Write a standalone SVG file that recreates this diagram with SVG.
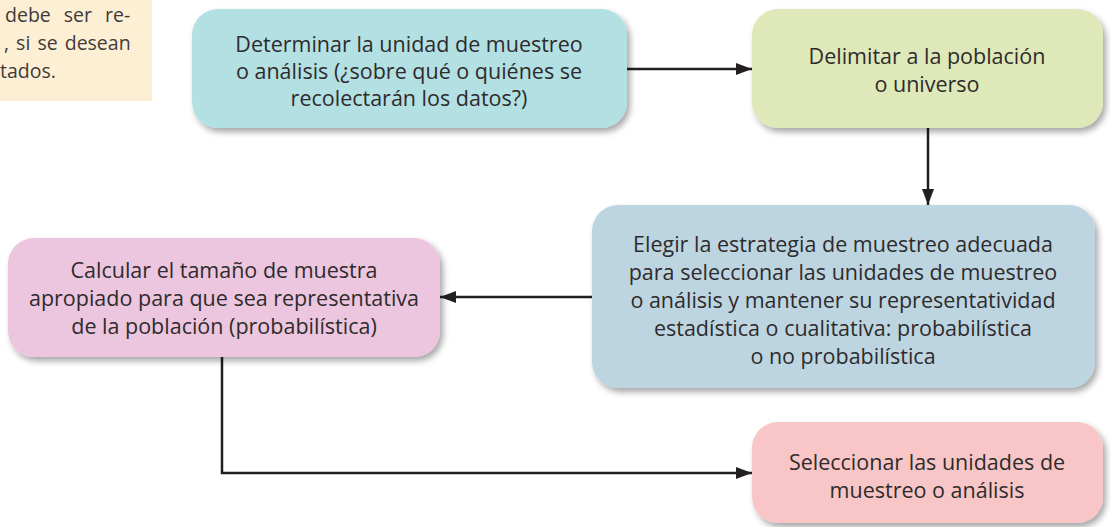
<svg xmlns="http://www.w3.org/2000/svg" width="1111" height="527" viewBox="0 0 1111 527">
<style>
.t{font-family:"Open Sans","Liberation Sans",sans-serif;font-size:21.5px;fill:#2e2b2c;text-anchor:middle}
.n{font-family:"Open Sans","Liberation Sans",sans-serif;font-size:19.5px;fill:#3e3a3b}
.c{fill:none;stroke:#231f20;stroke-width:2.5}
</style>
<defs>
<filter id="sh" x="-10%" y="-10%" width="125%" height="130%">
<feDropShadow dx="3" dy="4" stdDeviation="3" flood-color="#000" flood-opacity="0.35"/>
</filter>
<marker id="ah" viewBox="0 0 16 12" refX="16" refY="6" markerWidth="16" markerHeight="12" markerUnits="userSpaceOnUse" orient="auto">
<path d="M0,0 L16,6 L0,12 z" fill="#231f20"/>
</marker>
</defs>
<g id="note">
<rect x="0" y="0" width="152" height="101" fill="#fdefd3"/>
<text class="n" x="5" y="22" word-spacing="8">debe ser re-</text>
<text class="n" x="4" y="50" word-spacing="2">, si se desean</text>
<text class="n" x="0" y="78">tados.</text>
</g>
<g id="connectors">
<path class="c" d="M627,69 H752" marker-end="url(#ah)"/>
<path class="c" d="M928,128 V205" marker-end="url(#ah)"/>
<path class="c" d="M592,297 H440" marker-end="url(#ah)"/>
<path class="c" d="M222,357 V473 H752" marker-end="url(#ah)"/>
</g>
<g id="n1">
<rect x="192" y="9" width="435" height="119" rx="26" fill="#b3e0e3" filter="url(#sh)"/>
<text class="t" x="409" y="52">Determinar la unidad de muestreo</text>
<text class="t" x="409" y="79">o análisis (¿sobre qué o quiénes se</text>
<text class="t" x="409" y="106">recolectarán los datos?)</text>
</g>
<g id="n2">
<rect x="752" y="9" width="351" height="119" rx="26" fill="#dfe8b9" filter="url(#sh)"/>
<text class="t" x="927" y="64">Delimitar a la población</text>
<text class="t" x="927" y="92">o universo</text>
</g>
<g id="n3">
<rect x="592" y="205" width="503" height="183" rx="26" fill="#bdd5e1" filter="url(#sh)"/>
<text class="t" x="843" y="252">Elegir la estrategia de muestreo adecuada</text>
<text class="t" x="843" y="280">para seleccionar las unidades de muestreo</text>
<text class="t" x="843" y="308">o análisis y mantener su representatividad</text>
<text class="t" x="843" y="336">estadística o cualitativa: probabilística</text>
<text class="t" x="843" y="364">o no probabilística</text>
</g>
<g id="n4">
<rect x="8" y="238" width="432" height="119" rx="26" fill="#ecc5de" filter="url(#sh)"/>
<text class="t" x="224" y="278">Calcular el tamaño de muestra</text>
<text class="t" x="224" y="306">apropiado para que sea representativa</text>
<text class="t" x="224" y="334">de la población (probabilística)</text>
</g>
<g id="n5">
<rect x="752" y="422" width="351" height="101" rx="26" fill="#f8c6c6" filter="url(#sh)"/>
<text class="t" x="927" y="470">Seleccionar las unidades de</text>
<text class="t" x="927" y="498">muestreo o análisis</text>
</g>
</svg>
